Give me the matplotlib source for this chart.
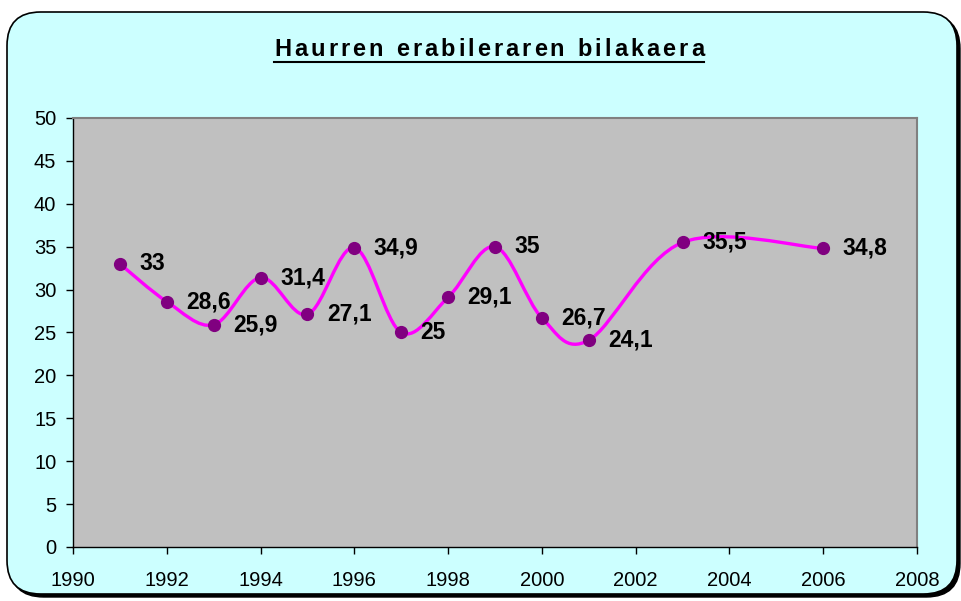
import matplotlib
matplotlib.use("Agg")
import matplotlib.pyplot as plt
from matplotlib.patches import FancyBboxPatch, PathPatch
from matplotlib.path import Path
from matplotlib.lines import Line2D

years = [1991, 1992, 1993, 1994, 1995, 1996, 1997, 1998, 1999, 2000, 2001, 2003, 2006]
values = [33, 28.6, 25.9, 31.4, 27.1, 34.9, 25, 29.1, 35, 26.7, 24.1, 35.5, 34.8]
labels = ["33", "28,6", "25,9", "31,4", "27,1", "34,9", "25", "29,1", "35", "26,7", "24,1", "35,5", "34,8"]
title = "Haurren erabileraren bilakaera"

plt.rcParams['font.family'] = ['Liberation Sans', 'DejaVu Sans']

W, H = 961, 601
fig = plt.figure(figsize=(W / 100, H / 100), dpi=100)
fig.patch.set_facecolor('white')

# rounded chart frame with shadow
shadow = FancyBboxPatch((10 / W, 4 / H), 950 / W, 582 / H,
                        boxstyle="round,pad=0,rounding_size=0.035",
                        transform=fig.transFigure, facecolor='black',
                        edgecolor='black', lw=1, mutation_aspect=W / H, zorder=-3)
frame = FancyBboxPatch((7 / W, 7 / H), 950 / W, 582 / H,
                       boxstyle="round,pad=0,rounding_size=0.035",
                       transform=fig.transFigure, facecolor='#CCFFFF',
                       edgecolor='black', lw=1.2, mutation_aspect=W / H, zorder=-2)
fig.patches.extend([shadow, frame])

ax = fig.add_axes([73 / W, 1 - 547 / H, (917 - 73) / W, (547 - 118) / H])
ax.set_zorder(1)
ax.set_facecolor('#C0C0C0')
ax.set_xlim(1990, 2008)
ax.set_ylim(0, 50)
ax.set_xticks(range(1990, 2009, 2))
ax.set_yticks(range(0, 51, 5))
for s in ['top', 'right']:
    ax.spines[s].set_color('#808080')
    ax.spines[s].set_linewidth(1.5)
for s in ['left', 'bottom']:
    ax.spines[s].set_color('black')
    ax.spines[s].set_linewidth(1)
ax.tick_params(direction='out', length=5, width=1, labelsize=14.5)
ax.tick_params(axis='y', pad=7)
ax.tick_params(axis='x', pad=12)

# smoothed line (Bezier segments, Excel-like smoothing)
pts = list(zip(years, values))
verts = [pts[0]]
codes = [Path.MOVETO]
n = len(pts)
for i in range(n - 1):
    p0 = pts[i - 1] if i > 0 else pts[i]
    p1 = pts[i]
    p2 = pts[i + 1]
    p3 = pts[i + 2] if i + 2 < n else pts[i + 1]
    c1 = (p1[0] + (p2[0] - p0[0]) / 6, p1[1] + (p2[1] - p0[1]) / 6)
    c2 = (p2[0] - (p3[0] - p1[0]) / 6, p2[1] - (p3[1] - p1[1]) / 6)
    verts += [c1, c2, p2]
    codes += [Path.CURVE4] * 3
ax.add_patch(PathPatch(Path(verts, codes), facecolor='none',
                       edgecolor='#FF00FF', lw=2.4, zorder=3, clip_on=False))
ax.plot(years, values, 'o', color='#800080', markersize=8.5, zorder=4)

for x, y, t in zip(years, values, labels):
    ax.annotate(t, (x, y), xytext=(14, 0), textcoords='offset points',
                ha='left', va='center', fontsize=16.5, fontweight='bold', zorder=5)

# title with letter spacing, placed char by char
fig.canvas.draw()
renderer = fig.canvas.get_renderer()
tsize = 17
gap = 3.0  # extra px between letters
widths = []
for ch in title:
    t = fig.text(0, 0, ch if ch != ' ' else 'n', fontsize=tsize, fontweight='bold')
    w = t.get_window_extent(renderer).width
    if ch == ' ':
        w *= 0.5
    widths.append(w)
    t.remove()
total = sum(widths) + gap * (len(title) - 1)
x = 489 - total / 2
y = H - 50
for ch, w in zip(title, widths):
    if ch != ' ':
        fig.text(x / W, y / H, ch, fontsize=tsize, fontweight='bold',
                 ha='left', va='center')
    x += w + gap
uy = (H - 62) / H
fig.add_artist(Line2D([(489 - total / 2) / W, (489 + total / 2) / W], [uy, uy],
                      transform=fig.transFigure, color='black', lw=1.5))

fig.savefig('out.png', dpi=100)
